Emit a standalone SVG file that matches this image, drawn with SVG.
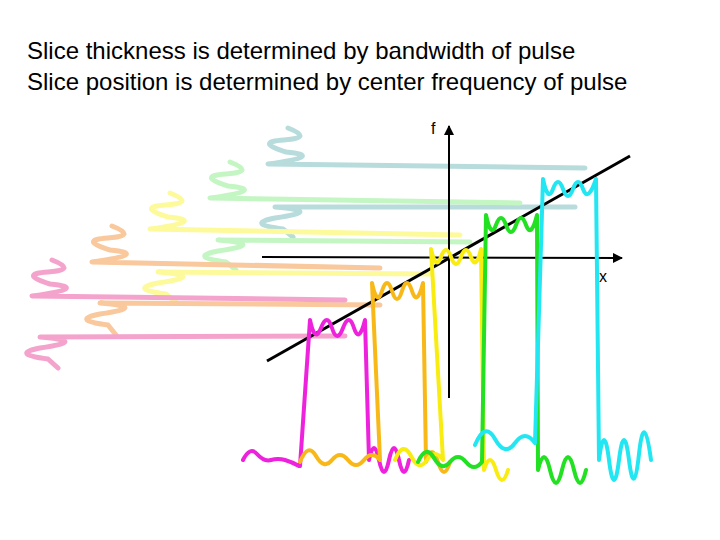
<svg xmlns="http://www.w3.org/2000/svg" width="720" height="540" viewBox="0 0 720 540">
<defs>
<marker id="ah" viewBox="0 0 10 10" refX="9" refY="5" markerWidth="5" markerHeight="5" orient="auto"><path d="M0 0L10 5L0 10z" fill="#000"/></marker>
</defs>
<style>
text{font-family:"Liberation Sans",Arial,sans-serif;fill:#000}
.p{fill:none;stroke-width:5;stroke-linecap:round;stroke-linejoin:round}
.b{fill:none;stroke-width:4;stroke-linecap:round;stroke-linejoin:round}
.ax{stroke:#000;stroke-width:2;fill:none}
</style>
<rect width="720" height="540" fill="#fff"/>
<text x="27" y="59" font-size="24">Slice thickness is determined by bandwidth of pulse</text>
<text x="27" y="90" font-size="24">Slice position is determined by center frequency of pulse</text>
<g id="pale">
<path class="p" stroke="#b8dcdc" d="M288 128q26 10 -4 12t2 12q40 4 -18 12L585 168"/>
<path class="p" stroke="#b8dcdc" d="M575 207L275 207q50 4 0 11q-30 6 8 11l10 8"/>
<path class="p" stroke="#c4f6c4" d="M230 162q26 10 -4 12t2 12q40 4 -18 12L520 203"/>
<path class="p" stroke="#c4f6c4" d="M470 242L218 240q50 4 0 11q-30 6 8 11l10 8"/>
<path class="p" stroke="#fdfa9c" d="M170 193q26 10 -4 12t2 12q40 4 -18 12L460 235"/>
<path class="p" stroke="#fdfa9c" d="M430 274L158 272q50 4 0 11q-30 6 8 11l10 8"/>
<path class="p" stroke="#f9c89c" d="M112 226q26 10 -4 12t2 12q40 4 -18 12L380 268"/>
<path class="p" stroke="#f9c89c" d="M380 305L100 303q50 4 0 11q-30 6 8 11l8 10"/>
<path class="p" stroke="#f4a4cc" d="M52 260q26 10 -4 12t2 12q40 4 -18 12L345 300"/>
<path class="p" stroke="#f4a4cc" d="M345 336L40 337q50 4 0 11q-30 6 8 11l10 9"/>
</g>
<g id="axes">
<line class="ax" x1="449" y1="398" x2="449" y2="126" marker-end="url(#ah)"/>
<line class="ax" x1="262" y1="257" x2="622" y2="258" marker-end="url(#ah)"/>
<line x1="267" y1="361" x2="630" y2="156" stroke="#000" stroke-width="3"/>
<text x="431" y="134" font-size="16">f</text>
<text x="599" y="282" font-size="16">x</text>
</g>
<g id="pulses">
<path class="b" stroke="#ee22dd" d="M243 460q7 -14 14 -6t14 6t14 0t14 6L300 466L310 320q5 24 11 8t11 0t11 0t11 0t11 -8L369 460q5 -24 10 0t10 0t10 0t10 0"/>
<path class="b" stroke="#f8b818" d="M300 462q8 -20 16 -6t16 4t16 0t16 0t16 0L372 283q5 24 10 8t10 0t10 0t10 0t11 -8L426 462q6 -20 12 0t12 0"/>
<path class="b" stroke="#f8ec10" d="M395 460q8 -20 16 -4t16 4t16 0L431 249q5 22 10 8t10 0t10 0t10 0t10 -8L484 470q6 -20 12 0t12 0"/>
<path class="b" stroke="#22e022" d="M418 462q8 -18 16 -4t16 4t16 0t16 0L486 215q5 24 10 10t10 0t10 0t10 0t11 -10L538 470q6 -26 12 0t12 0t12 0t12 0"/>
<path class="b" stroke="#22e6f2" d="M475 445q10 -24 20 -6t20 4t20 0L543 179q5 24 10 10t10 0t10 0t10 0t13 -10L599 460q5 -40 10 0t10 0t10 0t10 -6t12 6"/>
</g>
</svg>
